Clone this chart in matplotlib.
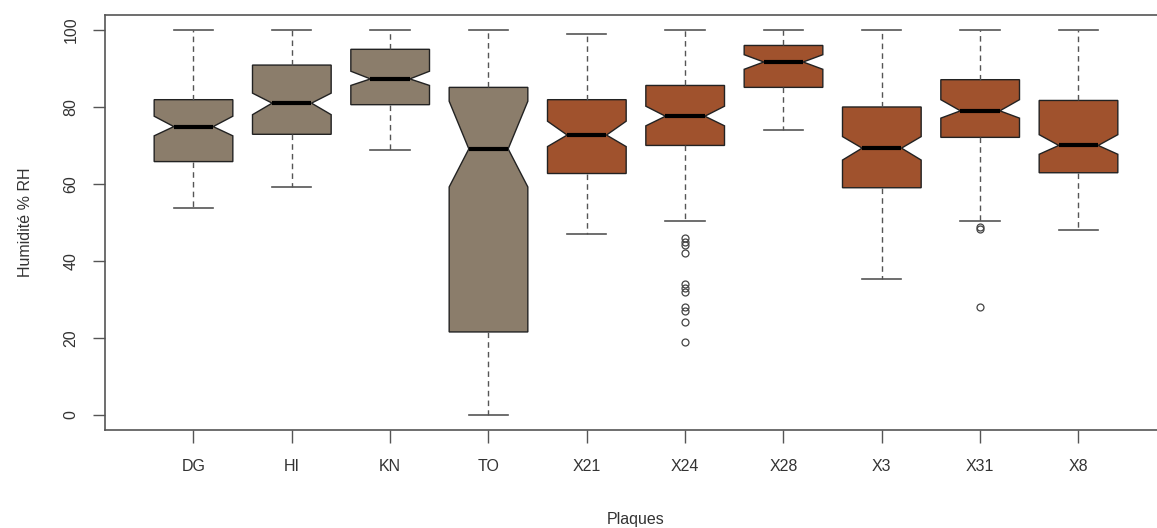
import matplotlib
matplotlib.use("Agg")
import matplotlib.pyplot as plt

categories = ["DG", "HI", "KN", "TO", "X21", "X24", "X28", "X3", "X31", "X8"]
whisker_low = [53.8, 59.1, 68.9, 0.0, 46.9, 50.3, 74.1, 35.2, 50.3, 47.9]
q1 = [65.8, 72.9, 80.6, 21.5, 62.7, 70.0, 85.1, 59.0, 72.1, 62.9]
median = [74.9, 81.0, 87.3, 69.1, 72.7, 77.6, 91.7, 69.3, 79.0, 70.0]
q3 = [81.9, 90.9, 95.0, 85.1, 81.9, 85.6, 96.0, 80.0, 87.1, 81.7]
whisker_high = [100, 100, 100, 100, 99.1, 100, 100, 100, 100, 100]
notch_low = [72.5, 78.0, 85.6, 59.2, 69.7, 75.1, 89.8, 66.2, 77.1, 67.7]
notch_high = [77.6, 83.6, 89.3, 81.5, 76.3, 80.2, 93.6, 72.3, 81.9, 72.8]
outliers = [[], [], [], [], [],
            [46, 45, 44, 42, 34, 33, 32, 28, 27, 24, 19],
            [], [], [48.8, 48.2, 28], []]
colors = ["#8B7D6B"] * 4 + ["#A0522D"] * 6

W, H = 1157, 528
fig = plt.figure(figsize=(W / 100, H / 100), dpi=100)
ax = fig.add_axes([105 / W, 1 - 430 / H, 1062 / W, (430 - 14.7) / H])

stats = []
for i, c in enumerate(categories):
    stats.append(dict(label=c, whislo=whisker_low[i], q1=q1[i], med=median[i],
                      q3=q3[i], whishi=whisker_high[i], cilo=notch_low[i],
                      cihi=notch_high[i], fliers=outliers[i]))

pos = list(range(1, len(categories) + 1))
bp = ax.bxp(stats, positions=pos, widths=0.8, capwidths=0.4, shownotches=True,
            patch_artist=True,
            boxprops=dict(edgecolor="#222222", linewidth=1.0),
            medianprops=dict(color="black", linewidth=3.0, solid_capstyle="butt"),
            whiskerprops=dict(color="#555555", linewidth=1.0, linestyle=(0, (4, 3))),
            capprops=dict(color="#555555", linewidth=1.2),
            flierprops=dict(marker="o", markersize=5, markerfacecolor="none",
                            markeredgecolor="#444444", markeredgewidth=0.9))
for patch, col in zip(bp["boxes"], colors):
    patch.set_facecolor(col)

ax.set_xlim(0.1, 10.9)
ax.set_ylim(-4, 104)
ax.set_yticks([0, 20, 40, 60, 80, 100])
ax.set_xticks(pos)
ax.set_xticklabels(categories)

txtcol = "#333333"
for sp in ax.spines.values():
    sp.set_color("#555555")
    sp.set_linewidth(1.2)
ax.tick_params(axis="both", colors="#555555", length=9, width=1.0,
               labelcolor=txtcol, labelsize=11.5)
ax.tick_params(axis="x", pad=12)
ax.tick_params(axis="y", pad=10)
for lab in ax.get_yticklabels():
    lab.set_rotation(90)
    lab.set_va("center")
for lab in ax.get_xticklabels() + ax.get_yticklabels():
    lab.set_family("Liberation Sans")

ax.set_xlabel("Plaques", fontsize=11.5, color=txtcol, family="Liberation Sans", labelpad=27)
ax.set_ylabel("Humidité % RH", fontsize=11.5, color=txtcol, family="Liberation Sans", labelpad=22)

fig.savefig("out.png", dpi=100)
